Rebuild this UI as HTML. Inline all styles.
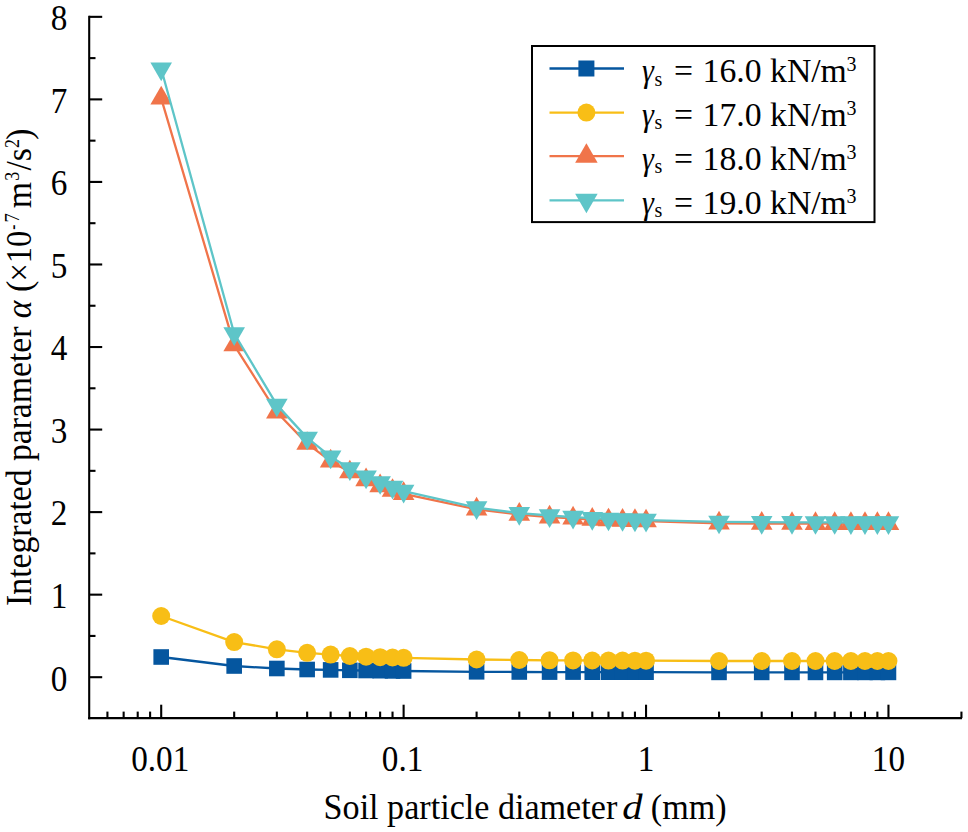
<!DOCTYPE html>
<html><head><meta charset="utf-8"><title>chart</title>
<style>
html,body{margin:0;padding:0;background:#fff;}
body{width:968px;height:832px;overflow:hidden;}
svg{display:block;}
text{font-family:"Liberation Serif",serif;fill:#000;}
.t{font-size:36.3px;}
.i{font-style:italic;}
.s{font-size:20.5px;}
</style></head><body>
<svg width="968" height="832" viewBox="0 0 968 832">
<rect width="968" height="832" fill="#fff"/>
<g stroke="#000" stroke-width="2.1" fill="none" stroke-linecap="butt">
<path d="M89.2 15.79V719.15"/>
<path d="M88.15 718.1H962.0"/>
<path d="M89.2 677.20h13.0"/>
<path d="M89.2 635.93h6.3"/>
<path d="M89.2 594.66h13.0"/>
<path d="M89.2 553.38h6.3"/>
<path d="M89.2 512.11h13.0"/>
<path d="M89.2 470.84h6.3"/>
<path d="M89.2 429.57h13.0"/>
<path d="M89.2 388.29h6.3"/>
<path d="M89.2 347.02h13.0"/>
<path d="M89.2 305.75h6.3"/>
<path d="M89.2 264.48h13.0"/>
<path d="M89.2 223.20h6.3"/>
<path d="M89.2 181.93h13.0"/>
<path d="M89.2 140.66h6.3"/>
<path d="M89.2 99.38h13.0"/>
<path d="M89.2 58.11h6.3"/>
<path d="M89.2 16.84h13.0"/>
<path d="M107.42 718.1v-6.5"/>
<path d="M123.65 718.1v-6.5"/>
<path d="M137.71 718.1v-6.5"/>
<path d="M150.11 718.1v-6.5"/>
<path d="M161.20 718.1v-13.4"/>
<path d="M234.18 718.1v-6.5"/>
<path d="M276.86 718.1v-6.5"/>
<path d="M307.15 718.1v-6.5"/>
<path d="M330.64 718.1v-6.5"/>
<path d="M349.84 718.1v-6.5"/>
<path d="M366.07 718.1v-6.5"/>
<path d="M380.13 718.1v-6.5"/>
<path d="M392.53 718.1v-6.5"/>
<path d="M403.62 718.1v-13.4"/>
<path d="M476.60 718.1v-6.5"/>
<path d="M519.28 718.1v-6.5"/>
<path d="M549.57 718.1v-6.5"/>
<path d="M573.06 718.1v-6.5"/>
<path d="M592.26 718.1v-6.5"/>
<path d="M608.49 718.1v-6.5"/>
<path d="M622.55 718.1v-6.5"/>
<path d="M634.95 718.1v-6.5"/>
<path d="M646.04 718.1v-13.4"/>
<path d="M719.02 718.1v-6.5"/>
<path d="M761.70 718.1v-6.5"/>
<path d="M791.99 718.1v-6.5"/>
<path d="M815.48 718.1v-6.5"/>
<path d="M834.68 718.1v-6.5"/>
<path d="M850.91 718.1v-6.5"/>
<path d="M864.97 718.1v-6.5"/>
<path d="M877.37 718.1v-6.5"/>
<path d="M888.46 718.1v-13.4"/>
<path d="M961.44 718.1v-6.5"/>
</g>
<polyline points="161.20,657.00 234.18,666.00 276.86,668.50 307.15,669.50 330.64,669.90 349.84,670.30 366.07,670.50 380.13,670.70 392.53,670.90 403.62,671.00 476.60,671.80 519.28,672.00 549.57,672.10 573.06,672.10 592.26,672.20 608.49,672.20 622.55,672.20 634.95,672.20 646.04,672.20 719.02,672.40 761.70,672.40 791.99,672.40 815.48,672.40 834.68,672.40 850.91,672.40 864.97,672.40 877.37,672.40 888.46,672.40" fill="none" stroke="#05569F" stroke-width="2.3" stroke-linejoin="round"/>
<rect x="153.40" y="649.20" width="15.6" height="15.6" fill="#05569F"/>
<rect x="226.38" y="658.20" width="15.6" height="15.6" fill="#05569F"/>
<rect x="269.06" y="660.70" width="15.6" height="15.6" fill="#05569F"/>
<rect x="299.35" y="661.70" width="15.6" height="15.6" fill="#05569F"/>
<rect x="322.84" y="662.10" width="15.6" height="15.6" fill="#05569F"/>
<rect x="342.04" y="662.50" width="15.6" height="15.6" fill="#05569F"/>
<rect x="358.27" y="662.70" width="15.6" height="15.6" fill="#05569F"/>
<rect x="372.33" y="662.90" width="15.6" height="15.6" fill="#05569F"/>
<rect x="384.73" y="663.10" width="15.6" height="15.6" fill="#05569F"/>
<rect x="395.82" y="663.20" width="15.6" height="15.6" fill="#05569F"/>
<rect x="468.80" y="664.00" width="15.6" height="15.6" fill="#05569F"/>
<rect x="511.48" y="664.20" width="15.6" height="15.6" fill="#05569F"/>
<rect x="541.77" y="664.30" width="15.6" height="15.6" fill="#05569F"/>
<rect x="565.26" y="664.30" width="15.6" height="15.6" fill="#05569F"/>
<rect x="584.46" y="664.40" width="15.6" height="15.6" fill="#05569F"/>
<rect x="600.69" y="664.40" width="15.6" height="15.6" fill="#05569F"/>
<rect x="614.75" y="664.40" width="15.6" height="15.6" fill="#05569F"/>
<rect x="627.15" y="664.40" width="15.6" height="15.6" fill="#05569F"/>
<rect x="638.24" y="664.40" width="15.6" height="15.6" fill="#05569F"/>
<rect x="711.22" y="664.60" width="15.6" height="15.6" fill="#05569F"/>
<rect x="753.90" y="664.60" width="15.6" height="15.6" fill="#05569F"/>
<rect x="784.19" y="664.60" width="15.6" height="15.6" fill="#05569F"/>
<rect x="807.68" y="664.60" width="15.6" height="15.6" fill="#05569F"/>
<rect x="826.88" y="664.60" width="15.6" height="15.6" fill="#05569F"/>
<rect x="843.11" y="664.60" width="15.6" height="15.6" fill="#05569F"/>
<rect x="857.17" y="664.60" width="15.6" height="15.6" fill="#05569F"/>
<rect x="869.57" y="664.60" width="15.6" height="15.6" fill="#05569F"/>
<rect x="880.66" y="664.60" width="15.6" height="15.6" fill="#05569F"/>
<polyline points="161.20,616.00 234.18,642.10 276.86,649.30 307.15,652.80 330.64,654.60 349.84,656.00 366.07,656.70 380.13,657.20 392.53,657.50 403.62,657.80 476.60,659.50 519.28,660.00 549.57,660.30 573.06,660.40 592.26,660.50 608.49,660.60 622.55,660.60 634.95,660.70 646.04,660.70 719.02,661.00 761.70,661.00 791.99,661.00 815.48,661.00 834.68,661.00 850.91,661.00 864.97,661.00 877.37,661.00 888.46,661.00" fill="none" stroke="#F8BE16" stroke-width="2.3" stroke-linejoin="round"/>
<circle cx="161.20" cy="616.00" r="9.0" fill="#F8BE16"/>
<circle cx="234.18" cy="642.10" r="9.0" fill="#F8BE16"/>
<circle cx="276.86" cy="649.30" r="9.0" fill="#F8BE16"/>
<circle cx="307.15" cy="652.80" r="9.0" fill="#F8BE16"/>
<circle cx="330.64" cy="654.60" r="9.0" fill="#F8BE16"/>
<circle cx="349.84" cy="656.00" r="9.0" fill="#F8BE16"/>
<circle cx="366.07" cy="656.70" r="9.0" fill="#F8BE16"/>
<circle cx="380.13" cy="657.20" r="9.0" fill="#F8BE16"/>
<circle cx="392.53" cy="657.50" r="9.0" fill="#F8BE16"/>
<circle cx="403.62" cy="657.80" r="9.0" fill="#F8BE16"/>
<circle cx="476.60" cy="659.50" r="9.0" fill="#F8BE16"/>
<circle cx="519.28" cy="660.00" r="9.0" fill="#F8BE16"/>
<circle cx="549.57" cy="660.30" r="9.0" fill="#F8BE16"/>
<circle cx="573.06" cy="660.40" r="9.0" fill="#F8BE16"/>
<circle cx="592.26" cy="660.50" r="9.0" fill="#F8BE16"/>
<circle cx="608.49" cy="660.60" r="9.0" fill="#F8BE16"/>
<circle cx="622.55" cy="660.60" r="9.0" fill="#F8BE16"/>
<circle cx="634.95" cy="660.70" r="9.0" fill="#F8BE16"/>
<circle cx="646.04" cy="660.70" r="9.0" fill="#F8BE16"/>
<circle cx="719.02" cy="661.00" r="9.0" fill="#F8BE16"/>
<circle cx="761.70" cy="661.00" r="9.0" fill="#F8BE16"/>
<circle cx="791.99" cy="661.00" r="9.0" fill="#F8BE16"/>
<circle cx="815.48" cy="661.00" r="9.0" fill="#F8BE16"/>
<circle cx="834.68" cy="661.00" r="9.0" fill="#F8BE16"/>
<circle cx="850.91" cy="661.00" r="9.0" fill="#F8BE16"/>
<circle cx="864.97" cy="661.00" r="9.0" fill="#F8BE16"/>
<circle cx="877.37" cy="661.00" r="9.0" fill="#F8BE16"/>
<circle cx="888.46" cy="661.00" r="9.0" fill="#F8BE16"/>
<polyline points="161.20,98.30 234.18,345.10 276.86,412.30 307.15,443.60 330.64,461.20 349.84,472.10 366.07,480.00 380.13,486.00 392.53,490.60 403.62,493.80 476.60,509.30 519.28,514.50 549.57,517.20 573.06,518.30 592.26,519.50 608.49,520.10 622.55,520.50 634.95,520.80 646.04,521.10 719.02,523.30 761.70,523.50 791.99,523.60 815.48,523.70 834.68,523.70 850.91,523.80 864.97,523.80 877.37,523.80 888.46,523.80" fill="none" stroke="#F0744A" stroke-width="2.3" stroke-linejoin="round"/>
<path d="M161.20 85.83L172.00 104.54L150.40 104.54Z" fill="#F0744A"/>
<path d="M234.18 332.63L244.98 351.34L223.38 351.34Z" fill="#F0744A"/>
<path d="M276.86 399.83L287.66 418.54L266.06 418.54Z" fill="#F0744A"/>
<path d="M307.15 431.13L317.95 449.84L296.35 449.84Z" fill="#F0744A"/>
<path d="M330.64 448.73L341.44 467.44L319.84 467.44Z" fill="#F0744A"/>
<path d="M349.84 459.63L360.64 478.34L339.04 478.34Z" fill="#F0744A"/>
<path d="M366.07 467.53L376.87 486.24L355.27 486.24Z" fill="#F0744A"/>
<path d="M380.13 473.53L390.93 492.24L369.33 492.24Z" fill="#F0744A"/>
<path d="M392.53 478.13L403.33 496.84L381.73 496.84Z" fill="#F0744A"/>
<path d="M403.62 481.33L414.42 500.04L392.82 500.04Z" fill="#F0744A"/>
<path d="M476.60 496.83L487.40 515.54L465.80 515.54Z" fill="#F0744A"/>
<path d="M519.28 502.03L530.08 520.74L508.48 520.74Z" fill="#F0744A"/>
<path d="M549.57 504.73L560.37 523.44L538.77 523.44Z" fill="#F0744A"/>
<path d="M573.06 505.83L583.86 524.54L562.26 524.54Z" fill="#F0744A"/>
<path d="M592.26 507.03L603.06 525.74L581.46 525.74Z" fill="#F0744A"/>
<path d="M608.49 507.63L619.29 526.34L597.69 526.34Z" fill="#F0744A"/>
<path d="M622.55 508.03L633.35 526.74L611.75 526.74Z" fill="#F0744A"/>
<path d="M634.95 508.33L645.75 527.04L624.15 527.04Z" fill="#F0744A"/>
<path d="M646.04 508.63L656.84 527.34L635.24 527.34Z" fill="#F0744A"/>
<path d="M719.02 510.83L729.82 529.54L708.22 529.54Z" fill="#F0744A"/>
<path d="M761.70 511.03L772.50 529.74L750.90 529.74Z" fill="#F0744A"/>
<path d="M791.99 511.13L802.79 529.84L781.19 529.84Z" fill="#F0744A"/>
<path d="M815.48 511.23L826.28 529.94L804.68 529.94Z" fill="#F0744A"/>
<path d="M834.68 511.23L845.48 529.94L823.88 529.94Z" fill="#F0744A"/>
<path d="M850.91 511.33L861.71 530.04L840.11 530.04Z" fill="#F0744A"/>
<path d="M864.97 511.33L875.77 530.04L854.17 530.04Z" fill="#F0744A"/>
<path d="M877.37 511.33L888.17 530.04L866.57 530.04Z" fill="#F0744A"/>
<path d="M888.46 511.33L899.26 530.04L877.66 530.04Z" fill="#F0744A"/>
<polyline points="161.20,68.80 234.18,333.50 276.86,404.90 307.15,437.90 330.64,456.70 349.84,468.60 366.07,476.70 380.13,482.40 392.53,487.10 403.62,491.10 476.60,507.60 519.28,513.20 549.57,515.50 573.06,517.10 592.26,518.20 608.49,518.90 622.55,519.40 634.95,519.80 646.04,520.10 719.02,521.90 761.70,522.20 791.99,522.30 815.48,522.40 834.68,522.40 850.91,522.50 864.97,522.50 877.37,522.60 888.46,522.60" fill="none" stroke="#5EC5C8" stroke-width="2.3" stroke-linejoin="round"/>
<path d="M161.20 81.27L172.00 62.56L150.40 62.56Z" fill="#5EC5C8"/>
<path d="M234.18 345.97L244.98 327.26L223.38 327.26Z" fill="#5EC5C8"/>
<path d="M276.86 417.37L287.66 398.66L266.06 398.66Z" fill="#5EC5C8"/>
<path d="M307.15 450.37L317.95 431.66L296.35 431.66Z" fill="#5EC5C8"/>
<path d="M330.64 469.17L341.44 450.46L319.84 450.46Z" fill="#5EC5C8"/>
<path d="M349.84 481.07L360.64 462.36L339.04 462.36Z" fill="#5EC5C8"/>
<path d="M366.07 489.17L376.87 470.46L355.27 470.46Z" fill="#5EC5C8"/>
<path d="M380.13 494.87L390.93 476.16L369.33 476.16Z" fill="#5EC5C8"/>
<path d="M392.53 499.57L403.33 480.86L381.73 480.86Z" fill="#5EC5C8"/>
<path d="M403.62 503.57L414.42 484.86L392.82 484.86Z" fill="#5EC5C8"/>
<path d="M476.60 520.07L487.40 501.36L465.80 501.36Z" fill="#5EC5C8"/>
<path d="M519.28 525.67L530.08 506.96L508.48 506.96Z" fill="#5EC5C8"/>
<path d="M549.57 527.97L560.37 509.26L538.77 509.26Z" fill="#5EC5C8"/>
<path d="M573.06 529.57L583.86 510.86L562.26 510.86Z" fill="#5EC5C8"/>
<path d="M592.26 530.67L603.06 511.96L581.46 511.96Z" fill="#5EC5C8"/>
<path d="M608.49 531.37L619.29 512.66L597.69 512.66Z" fill="#5EC5C8"/>
<path d="M622.55 531.87L633.35 513.16L611.75 513.16Z" fill="#5EC5C8"/>
<path d="M634.95 532.27L645.75 513.56L624.15 513.56Z" fill="#5EC5C8"/>
<path d="M646.04 532.57L656.84 513.86L635.24 513.86Z" fill="#5EC5C8"/>
<path d="M719.02 534.37L729.82 515.66L708.22 515.66Z" fill="#5EC5C8"/>
<path d="M761.70 534.67L772.50 515.96L750.90 515.96Z" fill="#5EC5C8"/>
<path d="M791.99 534.77L802.79 516.06L781.19 516.06Z" fill="#5EC5C8"/>
<path d="M815.48 534.87L826.28 516.16L804.68 516.16Z" fill="#5EC5C8"/>
<path d="M834.68 534.87L845.48 516.16L823.88 516.16Z" fill="#5EC5C8"/>
<path d="M850.91 534.97L861.71 516.26L840.11 516.26Z" fill="#5EC5C8"/>
<path d="M864.97 534.97L875.77 516.26L854.17 516.26Z" fill="#5EC5C8"/>
<path d="M877.37 535.07L888.17 516.36L866.57 516.36Z" fill="#5EC5C8"/>
<path d="M888.46 535.07L899.26 516.36L877.66 516.36Z" fill="#5EC5C8"/>
<text class="t" transform="translate(67.40 690.50) scale(0.915 1)" text-anchor="end">0</text>
<text class="t" transform="translate(67.40 607.96) scale(0.915 1)" text-anchor="end">1</text>
<text class="t" transform="translate(67.40 525.41) scale(0.915 1)" text-anchor="end">2</text>
<text class="t" transform="translate(67.40 442.87) scale(0.915 1)" text-anchor="end">3</text>
<text class="t" transform="translate(67.40 360.32) scale(0.915 1)" text-anchor="end">4</text>
<text class="t" transform="translate(67.40 277.78) scale(0.915 1)" text-anchor="end">5</text>
<text class="t" transform="translate(67.40 195.23) scale(0.915 1)" text-anchor="end">6</text>
<text class="t" transform="translate(67.40 112.68) scale(0.915 1)" text-anchor="end">7</text>
<text class="t" transform="translate(67.40 30.14) scale(0.915 1)" text-anchor="end">8</text>
<text class="t" transform="translate(160.20 771.40) scale(0.915 1)" text-anchor="middle">0.01</text>
<text class="t" transform="translate(402.62 771.40) scale(0.915 1)" text-anchor="middle">0.1</text>
<text class="t" transform="translate(646.04 771.40) scale(0.915 1)" text-anchor="middle">1</text>
<text class="t" transform="translate(888.46 771.40) scale(0.915 1)" text-anchor="middle">10</text>
<text class="t" transform="translate(323.60 819.30) scale(0.94 1)" text-anchor="start">Soil particle diameter</text>
<text class="t" transform="translate(632.30 819.30) scale(1.12 1)" text-anchor="middle"><tspan class="i">d</tspan></text>
<text class="t" transform="translate(726.60 819.30) scale(0.94 1)" text-anchor="end">(mm)</text>
<text class="t" transform="translate(30.90 605.90) rotate(-90) scale(0.927 1)" text-anchor="start">Integrated parameter <tspan class="i">α</tspan> (</text>
<text class="t" transform="translate(30.90 230.60) rotate(-90) scale(0.897 1)" text-anchor="end">×10</text>
<text class="t" transform="translate(19.30 229.80) rotate(-90) scale(0.75 1)" text-anchor="start"><tspan class="s">-</tspan></text>
<text class="t" transform="translate(19.30 222.50) rotate(-90) scale(0.9 1)" text-anchor="start"><tspan class="s">7</tspan></text>
<text class="t" transform="translate(30.90 208.30) rotate(-90) scale(0.927 1)" text-anchor="start">m</text>
<text class="t" transform="translate(19.30 180.80) rotate(-90) scale(0.875 1)" text-anchor="start"><tspan class="s">3</tspan></text>
<text class="t" transform="translate(30.90 170.50) rotate(-90) scale(0.927 1)" text-anchor="start">/s</text>
<text class="t" transform="translate(19.30 148.10) rotate(-90) scale(0.875 1)" text-anchor="start"><tspan class="s">2</tspan></text>
<text class="t" transform="translate(30.90 139.70) rotate(-90) scale(0.927 1)" text-anchor="start">)</text>
<rect x="532" y="46" width="342.5" height="176.1" fill="#fff" stroke="#000" stroke-width="2.0"/>
<path d="M549.5 68.5H624" stroke="#05569F" stroke-width="2.3"/>
<rect x="578.4" y="60.5" width="16" height="16" fill="#05569F"/>
<text class="t" transform="translate(642.00 82.30) scale(0.87 1)" text-anchor="start" style="font-size:34.6px"><tspan class="i">γ</tspan></text>
<text class="t" transform="translate(654.40 85.50) scale(0.975 1)" text-anchor="start"><tspan class="s">s</tspan></text>
<text class="t" transform="translate(674.10 82.40) scale(0.975 1)" text-anchor="start" style="font-size:34.6px">=</text>
<text class="t" transform="translate(702.60 82.30) scale(0.975 1)" text-anchor="start" style="font-size:34.6px">16.0 kN/m</text>
<text class="t" transform="translate(846.40 71.30) scale(0.975 1)" text-anchor="start"><tspan class="s">3</tspan></text>
<path d="M549.5 112.6H624" stroke="#F8BE16" stroke-width="2.3"/>
<circle cx="586.4" cy="112.6" r="9" fill="#F8BE16"/>
<text class="t" transform="translate(642.00 126.10) scale(0.87 1)" text-anchor="start" style="font-size:34.6px"><tspan class="i">γ</tspan></text>
<text class="t" transform="translate(654.40 129.30) scale(0.975 1)" text-anchor="start"><tspan class="s">s</tspan></text>
<text class="t" transform="translate(674.10 126.20) scale(0.975 1)" text-anchor="start" style="font-size:34.6px">=</text>
<text class="t" transform="translate(702.60 126.10) scale(0.975 1)" text-anchor="start" style="font-size:34.6px">17.0 kN/m</text>
<text class="t" transform="translate(846.40 115.10) scale(0.975 1)" text-anchor="start"><tspan class="s">3</tspan></text>
<path d="M549.5 156.2H624" stroke="#F0744A" stroke-width="2.3"/>
<path d="M586.40 143.21L597.65 162.70L575.15 162.70Z" fill="#F0744A"/>
<text class="t" transform="translate(642.00 169.80) scale(0.87 1)" text-anchor="start" style="font-size:34.6px"><tspan class="i">γ</tspan></text>
<text class="t" transform="translate(654.40 173.00) scale(0.975 1)" text-anchor="start"><tspan class="s">s</tspan></text>
<text class="t" transform="translate(674.10 169.90) scale(0.975 1)" text-anchor="start" style="font-size:34.6px">=</text>
<text class="t" transform="translate(702.60 169.80) scale(0.975 1)" text-anchor="start" style="font-size:34.6px">18.0 kN/m</text>
<text class="t" transform="translate(846.40 158.80) scale(0.975 1)" text-anchor="start"><tspan class="s">3</tspan></text>
<path d="M549.5 200.3H624" stroke="#5EC5C8" stroke-width="2.3"/>
<path d="M586.40 213.29L597.65 193.80L575.15 193.80Z" fill="#5EC5C8"/>
<text class="t" transform="translate(642.00 213.50) scale(0.87 1)" text-anchor="start" style="font-size:34.6px"><tspan class="i">γ</tspan></text>
<text class="t" transform="translate(654.40 216.70) scale(0.975 1)" text-anchor="start"><tspan class="s">s</tspan></text>
<text class="t" transform="translate(674.10 213.60) scale(0.975 1)" text-anchor="start" style="font-size:34.6px">=</text>
<text class="t" transform="translate(702.60 213.50) scale(0.975 1)" text-anchor="start" style="font-size:34.6px">19.0 kN/m</text>
<text class="t" transform="translate(846.40 202.50) scale(0.975 1)" text-anchor="start"><tspan class="s">3</tspan></text>
</svg></body></html>
